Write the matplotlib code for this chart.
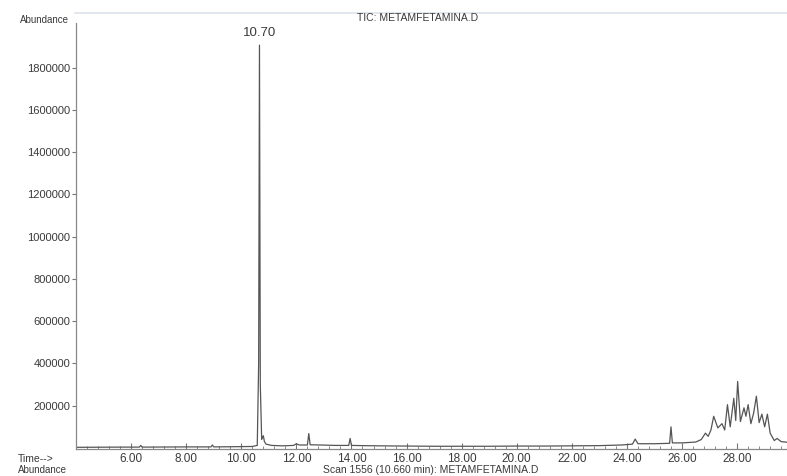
import matplotlib
matplotlib.use("Agg")
import matplotlib.pyplot as plt
from matplotlib.lines import Line2D
from matplotlib.ticker import MultipleLocator, FixedLocator

plt.rcParams["font.family"] = ["Liberation Sans", "DejaVu Sans"]

# retention time (min) and abundance
times = [4.05, 4.8, 5.6, 6.3, 6.35, 6.4, 7.2, 8.0, 8.9, 8.95, 9.0, 9.8,
         10.4, 10.58, 10.63, 10.66, 10.69, 10.74, 10.80, 10.84, 10.90, 11.1,
         11.5, 11.9, 12.0, 12.1, 12.4, 12.45, 12.5, 12.9, 13.4, 13.9, 13.95,
         14.0, 14.4, 15.0, 16.0, 17.0, 18.0, 19.0, 20.0, 21.0, 22.0, 23.0,
         23.8, 24.2, 24.3, 24.4, 25.0, 25.55, 25.6, 25.65, 26.0, 26.5, 26.7,
         26.85, 26.95, 27.05, 27.15, 27.3, 27.45, 27.55, 27.65, 27.75, 27.88,
         27.95, 28.02, 28.12, 28.25, 28.32, 28.4, 28.5, 28.6, 28.7, 28.8,
         28.9, 29.0, 29.1, 29.2, 29.35, 29.45, 29.6, 29.75, 29.9]
abundance = [3000, 3500, 4000, 4000, 12000, 4000, 4500, 5000, 5000, 14000,
             5000, 6000, 7000, 12000, 400000, 1907000, 300000, 40000, 58000,
             30000, 18000, 12000, 10000, 12000, 20000, 14000, 14000, 68000,
             15000, 14000, 12000, 12000, 45000, 12000, 11000, 10000, 9000,
             8000, 8000, 8000, 9000, 9000, 10000, 11000, 14000, 18000, 42000,
             20000, 20000, 22000, 100000, 24000, 24000, 28000, 40000, 70000,
             55000, 85000, 150000, 95000, 115000, 85000, 205000, 100000,
             235000, 130000, 315000, 125000, 190000, 150000, 205000, 115000,
             165000, 245000, 120000, 160000, 100000, 160000, 70000, 35000,
             45000, 30000, 28000, 25000]

x_ticks = [6, 8, 10, 12, 14, 16, 18, 20, 22, 24, 26, 28]
y_ticks = [200000, 400000, 600000, 800000, 1000000, 1200000, 1400000,
           1600000, 1800000]

grey = "#555555"
text_c = "#3a3a3a"

fig = plt.figure(figsize=(7.87, 4.76), dpi=100)
ax = fig.add_axes([0.0966, 0.0567, 0.91, 0.895])

ax.plot(times, abundance, color=grey, lw=0.9)

ax.set_xlim(4.0, 30.0)
ax.set_ylim(-5000, 2012000)

ax.xaxis.set_major_locator(FixedLocator(x_ticks))
ax.xaxis.set_minor_locator(MultipleLocator(0.4))
ax.set_xticklabels(["%.2f" % t for t in x_ticks])
ax.set_yticks(y_ticks)
ax.set_yticklabels([str(v) for v in y_ticks])

ax.tick_params(axis="x", which="major", direction="in", length=4, width=0.8,
               colors="#777777", labelcolor=text_c, labelsize=8.5, pad=3)
ax.tick_params(axis="x", which="minor", direction="in", length=2.5,
               width=0.6, colors="#777777")
ax.tick_params(axis="y", direction="out", length=3, width=0.8,
               colors="#777777", labelcolor=text_c, labelsize=8, pad=1)

for side in ["top", "right"]:
    ax.spines[side].set_visible(False)
for side in ["left", "bottom"]:
    ax.spines[side].set_color("#888888")
    ax.spines[side].set_linewidth(0.9)

# peak label
ax.text(10.66, 1935000, "10.70", ha="center", va="bottom", fontsize=9.5,
        color=text_c)

# header / footer text
fig.text(44 / 787, 1 - 20 / 476, "Abundance", ha="center", va="center",
         fontsize=7, color=text_c)
fig.text(418 / 787, 1 - 18 / 476, "TIC: METAMFETAMINA.D", ha="center",
         va="center", fontsize=7.5, color=text_c)
fig.text(18 / 787, 1 - 459 / 476, "Time-->", ha="left", va="center",
         fontsize=7.5, color=text_c)
fig.text(18 / 787, 1 / 476, "Abundance", ha="left", va="bottom",
         fontsize=7, color=text_c)
fig.text(431 / 787, 1 / 476, "Scan 1556 (10.660 min): METAMFETAMINA.D",
         ha="center", va="bottom", fontsize=7.5, color=text_c)

# faint border line at the top of the printout
fig.add_artist(Line2D([75 / 787, 1.0], [1 - 13 / 476, 1 - 13 / 476],
                      transform=fig.transFigure, color="#dde3ea", lw=1.2))

fig.savefig("out.png", dpi=100)
